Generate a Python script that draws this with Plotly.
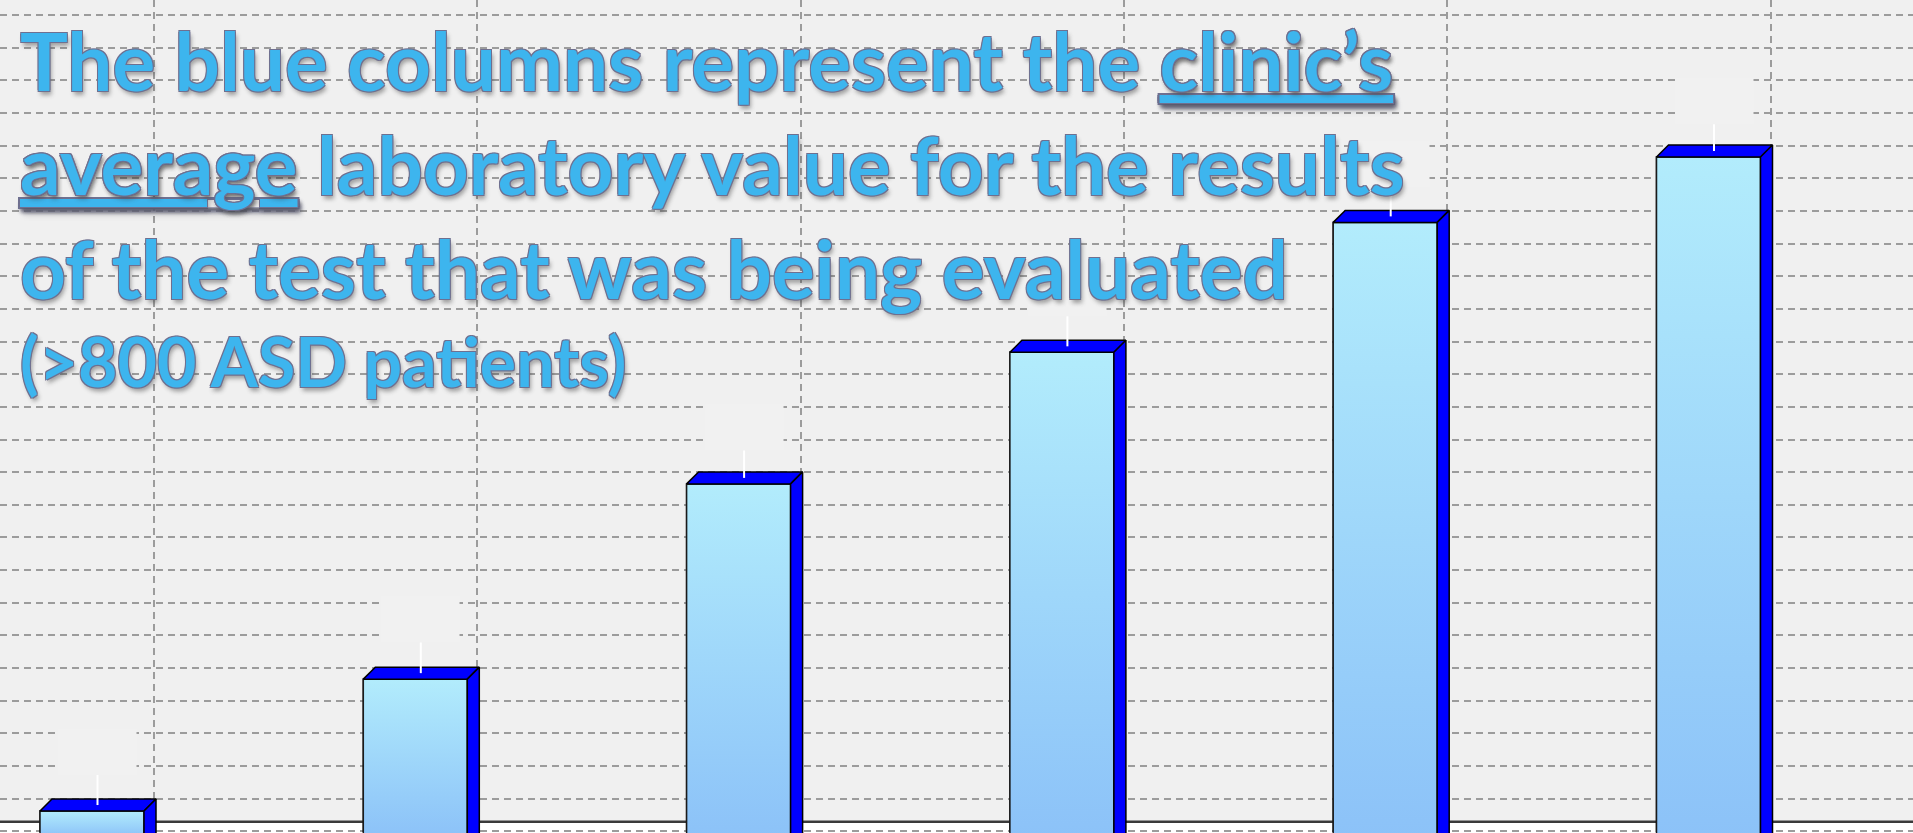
import plotly.graph_objects as go

# six test groups, no axis labels shown on the slide
groups = [0, 1, 2, 3, 4, 5]
clinic_avg = [6.2, 46.6, 106.4, 146.7, 186.5, 206.5]
err_plus = [9.2, 9.4, 8.4, 9.2, 9.0, 8.2]

W, H = 1913, 833
BG = "#f0f0f0"

# ── geometry (px -> data units) ──────────────────────────────────────────────
PX_X = 323.3            # px per category
PX_Y = 3.265            # px per y unit
x_lo = -92 / PX_X
x_hi = x_lo + W / PX_X
y_lo = -(833 - 831.3) / PX_Y
y_hi = y_lo + H / PX_Y

bar_w = 104 / PX_X
half = bar_w / 2
dx = 12 / PX_X          # 3d depth offset
dy = 12 / PX_Y

fig = go.Figure()

# front faces
fig.add_trace(go.Bar(
    x=groups, y=clinic_avg, width=bar_w,
    marker=dict(color="#a2d8fa", line=dict(color="#1a1a1a", width=1.5)),
    showlegend=False, hoverinfo="skip",
))

for g, v in zip(groups, clinic_avg):
    xl, xr = g - half, g + half
    # gradient overlay on the front face
    fig.add_trace(go.Scatter(
        x=[xl, xr, xr, xl, xl], y=[y_lo - 1, y_lo - 1, v, v, y_lo - 1],
        mode="lines", fill="toself",
        fillgradient=dict(type="vertical",
                          colorscale=[[0, "#8cc2f8"], [1, "#b2ecfc"]]),
        line=dict(color="#1a1a1a", width=1.5),
        showlegend=False, hoverinfo="skip",
    ))
    # top face
    fig.add_trace(go.Scatter(
        x=[xl, xr, xr + dx, xl + dx, xl], y=[v, v, v + dy, v + dy, v],
        mode="lines", fill="toself", fillcolor="#0000ff",
        line=dict(color="#000000", width=1.5),
        showlegend=False, hoverinfo="skip",
    ))
    # side face
    fig.add_trace(go.Scatter(
        x=[xr, xr + dx, xr + dx, xr, xr], y=[y_lo - 1, y_lo - 1, v + dy, v, y_lo - 1],
        mode="lines", fill="toself", fillcolor="#0000ff",
        line=dict(color="#000000", width=1.5),
        showlegend=False, hoverinfo="skip",
    ))

# white error whiskers rising from the middle of the top face
err_x = [g + 5.5 / PX_X for g in groups]
err_y = [v + dy / 2 for v in clinic_avg]
fig.add_trace(go.Scatter(
    x=err_x, y=err_y, mode="markers",
    marker=dict(size=1, opacity=0),
    error_y=dict(type="data", array=err_plus, arrayminus=[0] * 6,
                 color="#ffffff", thickness=2, width=0),
    showlegend=False, hoverinfo="skip",
))

annotations = []
# empty data-label boxes that hide the grid above each whisker
for ex, ey, e in zip(err_x, err_y, err_plus):
    annotations.append(dict(
        x=ex, y=ey + e, xref="x", yref="y", text=" ", showarrow=False,
        xanchor="center", yanchor="bottom", width=77, height=44,
        bgcolor="#f1f1f1", borderpad=0,
    ))

title_font = dict(
    family="Lato", size=80, color="#3db5ee", weight=700,
    shadow="1px 1px 0 #6f7090, -1px -1px 0 #6f7090, 1px -1px 0 #6f7090, "
           "-1px 1px 0 #6f7090, 2px 4px 4px rgba(60,60,60,0.45)",
)
ul = '<span style="text-decoration:underline">'
annotations.append(dict(
    x=18 / W, y=1 - 10 / H, xref="paper", yref="paper",
    xanchor="left", yanchor="top", align="left", showarrow=False,
    text=(f"The blue columns represent the {ul}clinic’s</span><br>"
          f"{ul}average</span> laboratory value for the results<br>"
          "of the test that was being evaluated"),
    font=title_font,
))
annotations.append(dict(
    x=18 / W, y=1 - 318 / H, xref="paper", yref="paper",
    xanchor="left", yanchor="top", align="left", showarrow=False,
    text="(>800 ASD patients)",
    font=dict(title_font, size=68),
))

fig.update_layout(
    width=W, height=H,
    margin=dict(l=0, r=0, t=0, b=0),
    paper_bgcolor=BG, plot_bgcolor=BG,
    barmode="overlay",
    xaxis=dict(range=[x_lo, x_hi], tickvals=[g + 62 / PX_X for g in groups],
               showticklabels=False, ticks="", showgrid=True,
               gridcolor="#9c9c9c", gridwidth=2, griddash="7px,5px",
               zeroline=False, showline=False),
    yaxis=dict(range=[y_lo, y_hi], tick0=0, dtick=10,
               showticklabels=False, ticks="", showgrid=True,
               gridcolor="#9c9c9c", gridwidth=2, griddash="7px,5px",
               zeroline=False, showline=False),
    shapes=[
        dict(type="rect", xref="paper", yref="paper", x0=0, x1=1,
             y0=0, y1=1 - 823 / H, fillcolor="#ffffff", line_width=0,
             layer="between"),
        dict(type="line", xref="paper", yref="paper", x0=0, x1=1,
             y0=1 - 821.7 / H, y1=1 - 821.7 / H,
             line=dict(color="#3a3a3a", width=2.5), layer="between"),
    ],
    annotations=annotations,
)

# drop the default page margin so the figure fills the window exactly
fig.write_html("out.html", config={"displayModeBar": False},
               post_script="document.body.style.margin='0';")
